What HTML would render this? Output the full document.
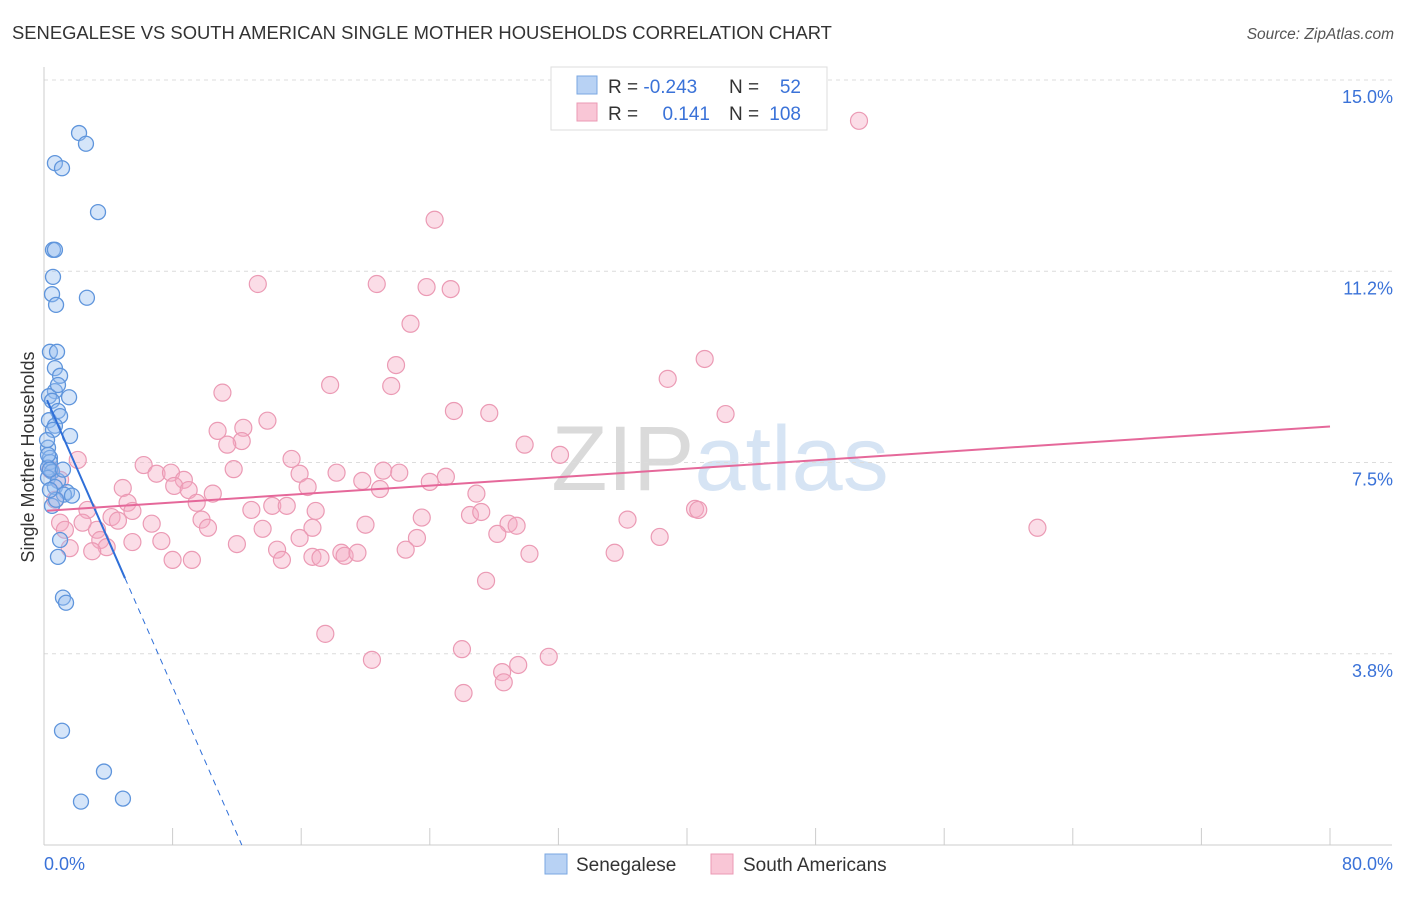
<!DOCTYPE html>
<html><head><meta charset="utf-8">
<style>
body{margin:0;background:#fff;font-family:"Liberation Sans",sans-serif;}
svg text{font-family:"Liberation Sans",sans-serif;}
</style></head>
<body>
<svg id="chart" width="1406" height="892" xmlns="http://www.w3.org/2000/svg">
<text x="12" y="39" font-size="18.4" fill="#333">SENEGALESE VS SOUTH AMERICAN SINGLE MOTHER HOUSEHOLDS CORRELATION CHART</text>
<text x="1394" y="39" font-size="15.5" fill="#555" text-anchor="end" font-style="italic">Source: ZipAtlas.com</text>
<text x="720" y="490" font-size="92" fill="#e4e4e4" text-anchor="middle" font-family="Liberation Serif"><tspan fill="#dadada">ZIP</tspan><tspan fill="#d6e4f4" font-family="Liberation Sans">atlas</tspan></text>
<g id="grid"></g>
<g id="axes"></g>
<text transform="translate(34,457) rotate(-90)" font-size="18" fill="#333" text-anchor="middle">Single Mother Households</text>
<g id="pinkPts"></g>
<g id="bluePts"></g>
<g id="trends"></g>
<g>
<rect x="551" y="67" width="276" height="63" fill="#fff" stroke="#ddd"/>
<rect x="577" y="76" width="20" height="18" fill="#b8d2f4" stroke="#7aa7e2"/>
<rect x="577" y="103" width="20" height="18" fill="#f9c6d6" stroke="#eb9ab4"/>
<text x="608" y="93" font-size="19" fill="#333">R = <tspan fill="#3a72d8">-0.243</tspan></text>
<text x="729" y="93" font-size="19" fill="#333">N = </text><text x="801" y="93" font-size="19" fill="#3a72d8" text-anchor="end">52</text>
<text x="608" y="120" font-size="19" fill="#333">R = </text><text x="710" y="120" font-size="19" fill="#3a72d8" text-anchor="end">0.141</text>
<text x="729" y="120" font-size="19" fill="#333">N = </text><text x="801" y="120" font-size="19" fill="#3a72d8" text-anchor="end">108</text>
</g>
<g>
<rect x="545" y="854" width="22" height="20" fill="#b8d2f4" stroke="#7aa7e2"/>
<text x="576" y="871" font-size="19" fill="#333">Senegalese</text>
<rect x="711" y="854" width="22" height="20" fill="#f9c6d6" stroke="#eb9ab4"/>
<text x="743" y="871" font-size="19" fill="#333">South Americans</text>
</g>
</svg>
<script>
const yTicks=[15.0,11.25,7.5,3.75];
const yTickLabels=["15.0%","11.2%","7.5%","3.8%"];
const xTickVals=[0,8,16,24,32,40,48,56,64,72,80];
const xEndLabels=["0.0%","80.0%"];
const blueX=[2.18,2.61,0.68,1.12,3.36,0.56,0.68,0.56,0.50,0.75,2.67,0.37,0.81,0.68,1.00,0.68,0.31,1.56,0.50,0.87,0.31,1.00,0.68,1.62,0.25,0.37,0.37,0.25,0.50,0.25,0.87,0.68,1.43,1.24,1.74,0.50,1.00,0.87,1.18,1.37,1.12,3.73,2.30,4.91,0.25,0.37,0.56,0.19,0.75,0.37,0.87,1.18];
const blueY=[13.96,13.75,13.37,13.27,12.41,11.67,11.67,11.14,10.80,10.59,10.73,9.67,9.67,9.35,9.20,8.90,8.80,8.78,8.71,8.51,8.33,8.41,8.22,8.02,7.79,7.59,7.51,7.40,7.32,7.20,7.14,7.02,6.92,6.87,6.85,6.65,5.98,5.65,4.85,4.75,2.24,1.44,0.85,0.91,7.65,7.36,8.14,7.94,6.77,6.96,9.02,7.36];
const pinkX=[50.7,24.3,13.3,20.7,23.8,25.3,22.8,41.1,21.9,38.8,17.8,21.6,11.1,25.5,27.7,42.4,13.9,10.8,12.4,12.3,11.4,29.9,32.1,15.4,6.2,11.8,7.0,7.9,8.7,15.9,18.2,21.1,22.1,25.0,19.8,8.1,9.0,16.4,20.9,24.0,4.9,10.5,26.9,5.2,9.5,2.7,5.5,12.9,14.2,15.1,16.9,26.5,27.2,40.5,40.7,4.2,4.6,9.8,23.5,36.3,6.7,10.2,13.6,20.0,28.9,29.4,16.7,28.2,3.3,2.4,1.0,1.3,3.5,5.5,7.3,12.0,15.9,23.2,38.3,61.8,3.9,3.0,1.6,14.5,22.5,16.7,18.5,18.7,19.5,30.2,35.5,8.0,9.2,14.8,17.2,27.5,17.5,26.0,31.4,20.4,29.5,28.5,28.6,26.1,0.4,0.7,1.0,2.1];
const pinkY=[14.20,12.26,11.0,11.0,10.94,10.90,10.22,9.53,9.41,9.14,9.02,9.0,8.87,8.51,8.47,8.45,8.32,8.12,8.18,7.92,7.85,7.85,7.65,7.57,7.45,7.37,7.28,7.30,7.16,7.28,7.30,7.34,7.30,7.22,7.14,7.04,6.96,7.02,6.98,7.12,7.0,6.89,6.89,6.71,6.71,6.57,6.55,6.57,6.65,6.65,6.55,6.47,6.53,6.59,6.57,6.43,6.36,6.38,6.42,6.38,6.30,6.22,6.20,6.28,6.30,6.26,6.22,6.10,6.18,6.32,6.32,6.18,5.98,5.94,5.96,5.90,6.02,6.02,6.04,6.22,5.84,5.76,5.82,5.79,5.79,5.65,5.73,5.67,5.73,5.71,5.73,5.59,5.59,5.59,5.63,5.18,4.14,3.84,3.69,3.63,3.53,3.39,3.19,2.98,7.36,6.77,7.16,7.55];
const blueTrend=[8.86,-0.72];
const pinkTrend=[6.55,0.0207];

const NS="http://www.w3.org/2000/svg";
const X=v=>44+v*16.075;
const Y=v=>80+(15-v)*51.0;
function mk(tag,attrs,parent){const e=document.createElementNS(NS,tag);for(const k in attrs)e.setAttribute(k,attrs[k]);parent.appendChild(e);return e;}
const grid=document.getElementById('grid'),axes=document.getElementById('axes');
yTicks.forEach((t,i)=>{
  const g=mk('line',{x1:44,x2:1392,y1:Y(t),y2:Y(t),stroke:'#dcdcdc','stroke-dasharray':'4,4'},grid);
  
  
  const l=mk('text',{x:1393,y:Y(t)+23,'font-size':18,fill:'#3a72d8','text-anchor':'end'},axes);
  l.textContent=yTickLabels[i];
  
  
});
mk('line',{x1:44,x2:44,y1:67,y2:845,stroke:'#ccc'},axes);
mk('line',{x1:44,x2:1392,y1:845,y2:845,stroke:'#ccc'},axes);
xTickVals.forEach(v=>{
  const t=mk('line',{x1:X(v),x2:X(v),y1:828,y2:845,stroke:'#ccc'},axes);
  
  
});
const xl0=mk('text',{x:44,y:870,'font-size':18,fill:'#3a72d8'},axes);xl0.textContent=xEndLabels[0];


const xl1=mk('text',{x:1393,y:870,'font-size':18,fill:'#3a72d8','text-anchor':'end'},axes);xl1.textContent=xEndLabels[1];



const pp=document.getElementById('pinkPts');
pinkX.forEach((x,i)=>{
  const c=mk('circle',{cx:X(x),cy:Y(pinkY[i]),r:8.5,fill:'rgba(245,170,195,0.4)',stroke:'#eb9ab4','stroke-width':1.2},pp);
  
  
});
const bp=document.getElementById('bluePts');
blueX.forEach((x,i)=>{
  const c=mk('circle',{cx:X(x),cy:Y(blueY[i]),r:7.5,fill:'rgba(150,190,240,0.4)',stroke:'#5f95dc','stroke-width':1.3},bp);
  
  
});
const tr=document.getElementById('trends');
const bx0=0.19,bx1=5.04,bx2=-blueTrend[0]/blueTrend[1];
const bl=mk('line',{x1:X(bx0),y1:Y(blueTrend[0]+blueTrend[1]*bx0),x2:X(bx1),y2:Y(blueTrend[0]+blueTrend[1]*bx1),stroke:'#2f6fd8','stroke-width':2},tr);


const bd=mk('line',{x1:X(bx1),y1:Y(blueTrend[0]+blueTrend[1]*bx1),x2:X(bx2),y2:Y(0),stroke:'#2f6fd8','stroke-width':1,'stroke-dasharray':'6,5'},tr);


const pl=mk('line',{x1:X(0.19),y1:Y(pinkTrend[0]+pinkTrend[1]*0.19),x2:X(80),y2:Y(pinkTrend[0]+pinkTrend[1]*80),stroke:'#e5689a','stroke-width':2},tr);


</script>
</body></html>
